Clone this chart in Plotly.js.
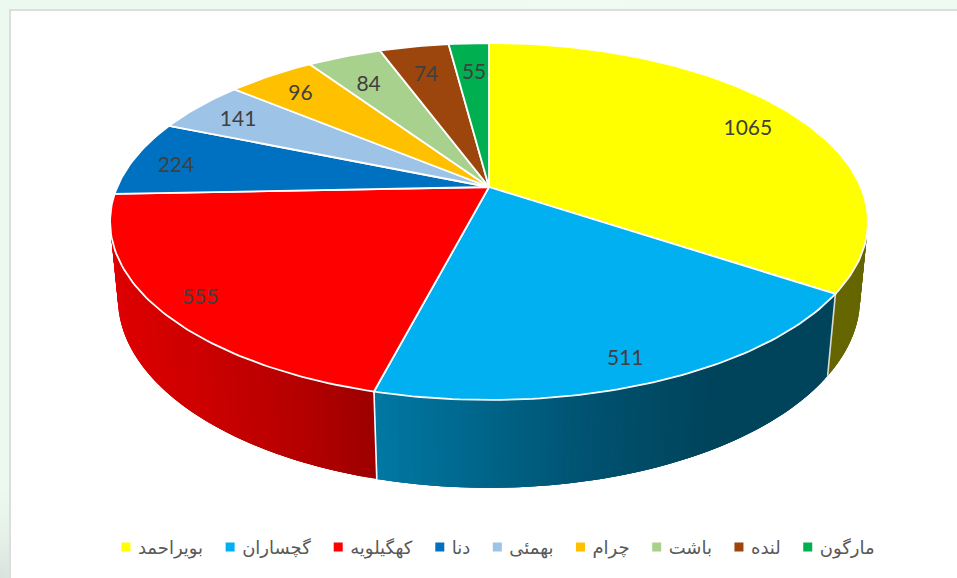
<!DOCTYPE html>
<html><head><meta charset="utf-8">
<script src="https://cdn.plot.ly/plotly-3.0.1.min.js"></script>
<style>
html,body{margin:0;padding:0;width:957px;height:578px;overflow:hidden;
background:radial-gradient(circle at 0 578px,#d9e2dc 0,#e6f0e9 40px,rgba(238,250,242,0) 90px),linear-gradient(90deg,#ecf9f0,#f1faf3 60%,#eefaf2);}
#chart{width:957px;height:578px}
</style></head><body><div id="chart"></div>
<script>
// Data
const categories = ['بویراحمد','گچساران','کهگیلویه','دنا','بهمئی','چرام','باشت','لنده','مارگون'];
const labelValues = [1065,511,555,224,141,96,84,74,55];      // numbers printed on the chart
const sliceValues = [964,552,570,193,134,127,107,100,58];    // sizes of the slices as drawn in the picture
const colors = ['#FFFF00','#00B0F0','#FF0000','#0070C0','#9DC3E6','#FFC000','#A9D18E','#9C450C','#00B050'];

// label placement on the disc: angle from the top (degrees), fraction of the radius
const labelAngle = [63.4,159.7,230.8,279,300.8,317.5,332,345.7,356.6];
const labelRadius = [0.835,0.886,0.893,0.875,0.852,0.84,0.782,0.786,0.778];

// wall shading: [pixel x, r, g, b]
const wallShade = {
  0: [[800,102,102,0],[900,102,102,0]],
  1: [[375,0,120,163],[590,0,82,112],[710,0,68,92],[830,0,68,92]],
  2: [[110,222,0,0],[200,204,0,0],[300,180,0,0],[375,156,0,0]]
};

// Perspective model of the pie disc, on pixel-valued axes
const cx=489, cy=187, a=371.8, b=171.8, p=0.1933, depthW=0.0205, depthY=77;
function rimTop(th){const u=Math.sin(th),v=Math.cos(th),w=1+p*v;return [cx+a*u/w,cy-b*v/w];}
function rimLow(th){const u=Math.sin(th),v=Math.cos(th),w=1+p*v+depthW;return [cx+a*u/w,cy+(-b*v+depthY)/w];}
function inner(th,r){const u=r*Math.sin(th),v=r*Math.cos(th),w=1+p*v;return [cx+a*u/w,cy-b*v/w];}
function shade(stops,x){
  if(x<=stops[0][0])return stops[0].slice(1);
  for(let i=1;i<stops.length;i++){if(x<=stops[i][0]){
    const t=(x-stops[i-1][0])/(stops[i][0]-stops[i-1][0]);
    return [1,2,3].map(k=>stops[i-1][k]+t*(stops[i][k]-stops[i-1][k]));}}
  return stops[stops.length-1].slice(1);
}
const total=sliceValues.reduce((s,v)=>s+v,0);
const deg=Math.PI/180;
const edges=[0];sliceValues.forEach(v=>edges.push(edges[edges.length-1]+v/total*2*Math.PI));

const traces=[];
// side walls: every strip runs on past its neighbour so that the next one paints over the join
[0,1,2].forEach(i=>{
  const s=Math.max(edges[i],80*deg), e=edges[i+1], n=Math.ceil((e-s)/(1*deg));
  for(let k=0;k<n;k++){
    const t0=s+(e-s)*k/n,t1=s+(e-s)*Math.min(n,k+3)/n,tm=s+(e-s)*Math.min(n,k+1.5)/n;
    const A=rimTop(t0),M=rimTop(tm),B=rimTop(t1),C=rimLow(t1),N=rimLow(tm),D=rimLow(t0);
    const E=rimTop(s+(e-s)*(k+0.5)/n);
    const c=shade(wallShade[i],E[0]).map(Math.round);
    const col='rgb('+c.join(',')+')';
    traces.push({type:'scatter',mode:'none',x:[A[0],M[0],B[0],C[0],N[0],D[0],A[0]],y:[A[1],M[1],B[1],C[1],N[1],D[1],A[1]],
      fill:'toself',fillcolor:col,showlegend:false,hoverinfo:'skip'});
  }
});
// wall separators
[1,2].forEach(i=>{const A=rimTop(edges[i]),B=rimLow(edges[i]);
  traces.push({type:'scatter',mode:'lines',x:[A[0],B[0]],y:[A[1],B[1]],line:{color:i===1?'#d8dcd8':'#ffffff',width:1.6},showlegend:false,hoverinfo:'skip'});});
// top faces
categories.forEach((name,i)=>{
  const xs=[cx],ys=[cy],n=Math.max(6,Math.ceil((edges[i+1]-edges[i])/(1*deg)));
  for(let k=0;k<=n;k++){const P=rimTop(edges[i]+(edges[i+1]-edges[i])*k/n);xs.push(P[0]);ys.push(P[1]);}
  xs.push(cx);ys.push(cy);
  traces.push({type:'scatter',mode:'lines',x:xs,y:ys,fill:'toself',fillcolor:colors[i],
    line:{color:'#ffffff',width:1.8},name:name,showlegend:false,hoverinfo:'name'});
});
// value labels
const lab=categories.map((_,i)=>inner(labelAngle[i]*deg,labelRadius[i]));
traces.push({type:'scatter',mode:'text',x:lab.map(q=>q[0]),y:lab.map(q=>q[1]+3),text:labelValues.map(String),
  textposition:'middle center',textfont:{family:'Lato, sans-serif',size:21,color:'#404040'},
  showlegend:false,hoverinfo:'skip'});
// legend entries
categories.forEach((name,i)=>{
  traces.push({type:'scatter',mode:'markers',x:[-500],y:[-500],name:name,
    marker:{symbol:'square',size:9,color:colors[i]},showlegend:true,hoverinfo:'skip'});
});

const layout={
  width:957,height:578,margin:{l:0,r:0,t:0,b:0},
  paper_bgcolor:'rgba(0,0,0,0)',plot_bgcolor:'rgba(0,0,0,0)',
  xaxis:{range:[0,957],visible:false,fixedrange:true},
  yaxis:{range:[578,0],visible:false,fixedrange:true},
  shapes:[{type:'rect',xref:'x',yref:'y',x0:10,y0:10,x1:965,y1:590,fillcolor:'#ffffff',line:{color:'#dcdedc',width:2},layer:'below'}],
  showlegend:true,
  legend:{orientation:'h',x:0.514,xanchor:'center',y:0.085,yanchor:'top',traceorder:'normal',indentation:-6,
    font:{family:'"DejaVu Sans", sans-serif',size:18,color:'#595959'},bgcolor:'rgba(0,0,0,0)',itemwidth:30}
};
Plotly.newPlot('chart',traces,layout,{displayModeBar:false,staticPlot:true}).then(()=>{
  // bring the legend swatches next to their labels, as in the reference
  document.querySelectorAll('.legend .legendpoints').forEach(g=>g.setAttribute('transform','translate(8,0)'));
});
</script></body></html>
